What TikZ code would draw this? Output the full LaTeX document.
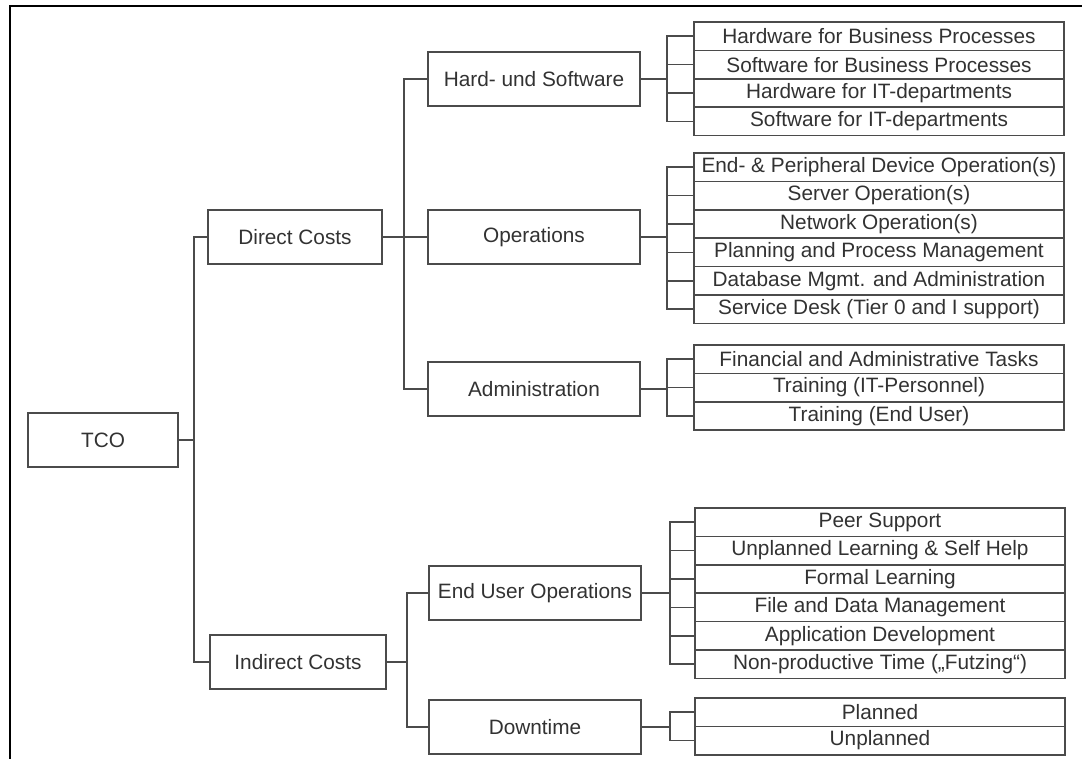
\documentclass[tikz,border=0pt]{standalone}
\usepackage{fontspec}
\setmainfont{Liberation Sans}
\definecolor{linecol}{RGB}{75,75,75}
\definecolor{textcol}{RGB}{50,50,50}
\begin{document}
\begin{tikzpicture}[x=1pt,y=-1pt,
  lbl/.style={text=textcol, font=\fontsize{20.8}{24}\selectfont},
  box/.style={lbl, draw=linecol, line width=1.6pt, inner sep=0pt, minimum height=54pt},
  leaf/.style={lbl, draw=linecol, line width=1.6pt, inner sep=0pt, minimum width=370pt, minimum height=28.4pt},
  link/.style={draw=linecol, line width=1.6pt}]
\useasboundingbox (0,0) rectangle (1082,758);
% outer frame (top and left edge only)
\draw[line width=2.4pt, black] (10,760) -- (10,6) -- (1084,6);

% root and first level
\node[box, minimum width=150pt] (tco) at (103,440) {TCO};
\node[box, minimum width=174pt] (dc) at (295,237) {Direct Costs};
\node[box, minimum width=176pt] (ic) at (298,662) {Indirect Costs};

% second level
\node[box, minimum width=212pt] (hs) at (534,79)  {Hard- und Software};
\node[box, minimum width=212pt] (op) at (534,237) {Operations};
\node[box, minimum width=212pt] (ad) at (534,389) {Administration};
\node[box, minimum width=212pt] (eu) at (535,593) {End User Operations};
\node[box, minimum width=212pt] (dt) at (535,727) {Downtime};

% leaves: hardware and software
\node[leaf] (h1) at (879,36.2)  {Hardware for Business Processes};
\node[leaf] (h2) at (879,64.6)  {Software for Business Processes};
\node[leaf] (h3) at (879,93.0)  {Hardware for IT-departments};
\node[leaf] (h4) at (879,121.4) {Software for IT-departments};

% leaves: operations
\node[leaf] (o1) at (879,167.2) {End- \& Peripheral Device Operation(s)};
\node[leaf] (o2) at (879,195.6) {Server Operation(s)};
\node[leaf] (o3) at (879,224.0) {Network Operation(s)};
\node[leaf] (o4) at (879,252.4) {Planning and Process Management};
\node[leaf] (o5) at (879,280.8) {Database Mgmt. and Administration};
\node[leaf] (o6) at (879,309.2) {Service Desk (Tier 0 and I support)};

% leaves: administration
\node[leaf] (a1) at (879,359.2) {Financial and Administrative Tasks};
\node[leaf] (a2) at (879,387.6) {Training (IT-Personnel)};
\node[leaf] (a3) at (879,416.0) {Training (End User)};

% leaves: end user operations
\node[leaf] (e1) at (880,522.2) {Peer Support};
\node[leaf] (e2) at (880,550.6) {Unplanned Learning \& Self Help};
\node[leaf] (e3) at (880,579.0) {Formal Learning};
\node[leaf] (e4) at (880,607.4) {File and Data Management};
\node[leaf] (e5) at (880,635.8) {Application Development};
\node[leaf] (e6) at (880,664.2) {Non-productive Time („Futzing“)};

% leaves: downtime
\node[leaf] (d1) at (880,712.2) {Planned};
\node[leaf] (d2) at (880,740.6) {Unplanned};

% x positions of the vertical bus lines
\coordinate (j0) at (194,0);
\coordinate (j1) at (404,0);
\coordinate (j2) at (407,0);
\coordinate (j3) at (667,0);
\coordinate (j4) at (670,0);

% root to first level
\draw[link] (tco.east) -- (tco.east -| j0);
\draw[link] (dc.west) -- (dc.west -| j0) |- (ic.west);

% first to second level
\draw[link] (dc.east) -- (op.west);
\draw[link] (hs.west) -- (hs.west -| j1) |- (ad.west);
\draw[link] (ic.east) -- (ic.east -| j2);
\draw[link] (eu.west) -- (eu.west -| j2) |- (dt.west);

% second level to leaves
\draw[link] (hs.east) -- (hs.east -| j3);
\draw[link] (h1.west) -- (h1.west -| j3) |- (h4.west);
\foreach \n in {h2,h3} \draw[link] (\n.west) -- (\n.west -| j3);

\draw[link] (op.east) -- (op.east -| j3);
\draw[link] (o1.west) -- (o1.west -| j3) |- (o6.west);
\foreach \n in {o2,o3,o4,o5} \draw[link] (\n.west) -- (\n.west -| j3);

\draw[link] (ad.east) -- (ad.east -| j3);
\draw[link] (a1.west) -- (a1.west -| j3) |- (a3.west);
\draw[link] (a2.west) -- (a2.west -| j3);

\draw[link] (eu.east) -- (eu.east -| j4);
\draw[link] (e1.west) -- (e1.west -| j4) |- (e6.west);
\foreach \n in {e2,e3,e4,e5} \draw[link] (\n.west) -- (\n.west -| j4);

\draw[link] (dt.east) -- (dt.east -| j4);
\draw[link] (d1.west) -- (d1.west -| j4) |- (d2.west);
\end{tikzpicture}
\end{document}
